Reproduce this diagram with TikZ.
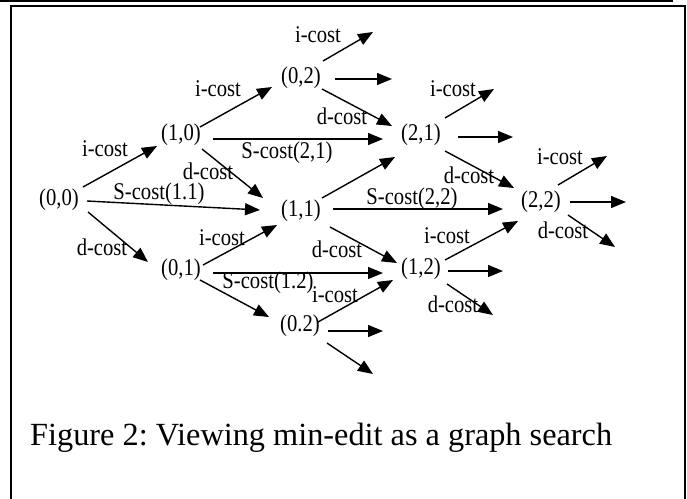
\documentclass[tikz,border=0pt]{standalone}
\usepackage{fontspec}
\setmainfont{Liberation Serif}
\newfontfamily\lblfont[FakeStretch=0.86]{Liberation Serif}
\usetikzlibrary{arrows.meta,calc}
\tikzset{
  st/.style={inner sep=0pt, font=\lblfont\fontsize{24}{24}\selectfont},
  lbl/.style={inner sep=0pt, font=\lblfont\fontsize{24}{24}\selectfont},
  edge/.style={line width=1.4pt, -{Triangle[length=15pt,width=12pt]}},
  frame/.style={line width=2pt}
}
\frenchspacing
\begin{document}
\begin{tikzpicture}[x=1pt,y=-1pt]
\useasboundingbox (0,0) rectangle (687,498);
\draw[line width=2.5pt] (0,1) -- (673,1);
\draw[frame] (11,6) rectangle (685,520);
% states
\node[st] (n00) at (59,200) {(0,0)};
\node[st] (n10) at (181,135) {(1,0)};
\node[st] (n02) at (301,78) {(0,2)};
\node[st] (n11) at (301,211) {(1,1)};
\node[st] (n01) at (181,270) {(0,1)};
\node[st] (n02b) at (300,326) {(0.2)};
\node[st] (n21) at (421,135) {(2,1)};
\node[st] (n12) at (421,269) {(1,2)};
\node[st] (n22) at (541,202) {(2,2)};
% free ends
\coordinate (c6) at (373,32);
\coordinate (c7) at (392,79);
\coordinate (c17) at (383,331);
\coordinate (c18) at (373,374);
\coordinate (c19) at (494,89);
\coordinate (c20) at (513,137);
\coordinate (c23) at (503,271);
\coordinate (c24) at (493,315);
\coordinate (c25) at (607,156);
\coordinate (c26) at (626,202);
\coordinate (c27) at (615,247);
% edges
\draw[edge] ($(n00)+(24,-13)$) -- ($(n10)+(-24,11)$);
\draw[edge] ($(n10)+(19,-8)$) -- ($(n02)+(-29,9)$);
\draw[edge] ($(n00)+(28,1)$) -- ($(n11)+(-41,-1)$);
\draw[edge] ($(n10)+(21,14)$) -- ($(n11)+(-38,-13)$);
\draw[edge] ($(n10)+(32,4)$) -- ($(n21)+(-38,4)$);
\draw[edge] ($(n02)+(22,-17)$) -- (c6);
\draw[edge] ($(n02)+(34,1)$) -- (c7);
\draw[edge] ($(n02)+(21,11)$) -- ($(n21)+(-29,-9)$);
\draw[edge] ($(n00)+(29,12)$) -- ($(n01)+(-33,-8)$);
\draw[edge] ($(n01)+(22,-5)$) -- ($(n11)+(-24,14)$);
\draw[edge] ($(n01)+(32,3)$) -- ($(n12)+(-38,4)$);
\draw[edge] ($(n01)+(19,10)$) -- ($(n02b)+(-31,-9)$);
\draw[edge] ($(n11)+(21,-13)$) -- ($(n21)+(-26,22)$);
\draw[edge] ($(n11)+(32,-2)$) -- ($(n22)+(-38,7)$);
\draw[edge] ($(n11)+(29,16)$) -- ($(n12)+(-24,-6)$);
\draw[edge] ($(n02b)+(18,-4)$) -- ($(n12)+(-28,11)$);
\draw[edge] ($(n02b)+(28,5)$) -- (c17);
\draw[edge] ($(n02b)+(27,17)$) -- (c18);
\draw[edge] ($(n21)+(24,-17)$) -- (c19);
\draw[edge] ($(n21)+(37,2)$) -- (c20);
\draw[edge] ($(n21)+(24,16)$) -- ($(n22)+(-27,-14)$);
\draw[edge] ($(n12)+(24,-9)$) -- ($(n22)+(-23,19)$);
\draw[edge] ($(n12)+(27,2)$) -- (c23);
\draw[edge] ($(n12)+(26,15)$) -- (c24);
\draw[edge] ($(n22)+(17,-17)$) -- (c25);
\draw[edge] ($(n22)+(29,0)$) -- (c26);
\draw[edge] ($(n22)+(27,13)$) -- (c27);
% labels
\node[lbl] (l1) at (105,149) {i-cost};
\node[lbl] (l2) at (218,89) {i-cost};
\node[lbl] (l3) at (159,194) {S-cost(1.1)};
\node[lbl] (l4) at (208,171) {d-cost};
\node[lbl] (l5) at (287,153) {S-cost(2,1)};
\node[lbl] (l6) at (318,35) {i-cost};
\node[lbl] (l8) at (342,116) {d-cost};
\node[lbl] (l9) at (102,247) {d-cost};
\node[lbl] (l10) at (222,238) {i-cost};
\node[lbl] (l11) at (268,283) {S-cost(1.2)};
\node[lbl] (l14) at (412,199) {S-cost(2,2)};
\node[lbl] (l15) at (337,249) {d-cost};
\node[lbl] (l16) at (335,295) {i-cost};
\node[lbl] (l19) at (453,89) {i-cost};
\node[lbl] (l21) at (469,175) {d-cost};
\node[lbl] (l22) at (447,236) {i-cost};
\node[lbl] (l24) at (453,304) {d-cost};
\node[lbl] (l25) at (560,157) {i-cost};
\node[lbl] (l27) at (563,230) {d-cost};
% caption
\node[anchor=base west, inner sep=0pt, font=\fontsize{32.3}{32.3}\selectfont] (cap) at (30,445) {Figure 2: Viewing min-edit as a graph search};
\end{tikzpicture}
\end{document}
